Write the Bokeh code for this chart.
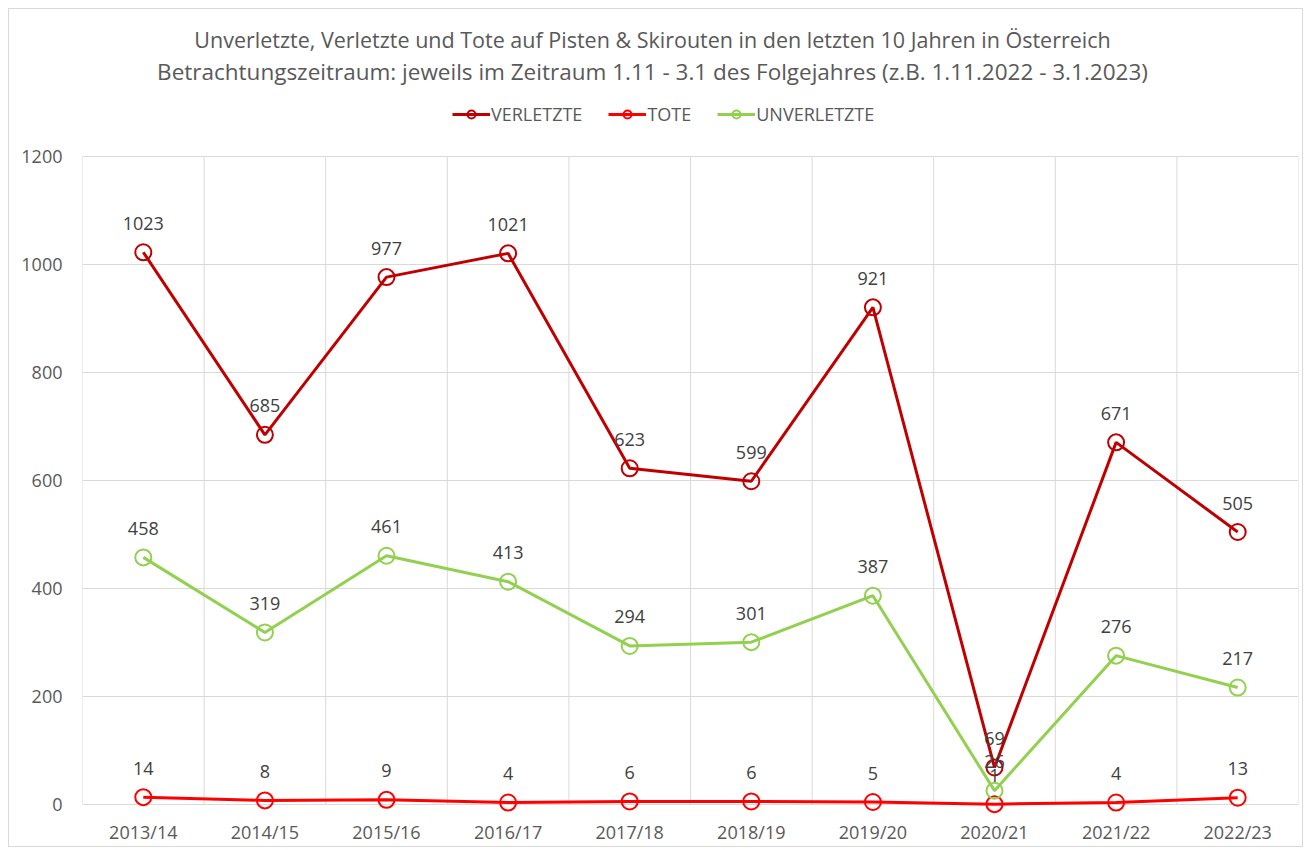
from bokeh.plotting import figure
from bokeh.models import (ColumnDataSource, FixedTicker, LabelSet, Label, Legend, LegendItem,
                          Range1d)
from bokeh.core.properties import value
from bokeh.embed import file_html
from bokeh.resources import INLINE

seasons = ["2013/14", "2014/15", "2015/16", "2016/17", "2017/18",
           "2018/19", "2019/20", "2020/21", "2021/22", "2022/23"]
verletzte = [1023, 685, 977, 1021, 623, 599, 921, 69, 671, 505]
tote = [14, 8, 9, 4, 6, 6, 5, 1, 4, 13]
unverletzte = [458, 319, 461, 413, 294, 301, 387, 26, 276, 217]
y_ticks = [0, 200, 400, 600, 800, 1000, 1200]

title1 = "Unverletzte, Verletzte und Tote auf Pisten & Skirouten in den letzten 10 Jahren in Österreich"
title2 = "Betrachtungszeitraum: jeweils im Zeitraum 1.11 - 3.1 des Folgejahres (z.B. 1.11.2022 - 3.1.2023)"

FONT = "Open Sans"
TXT = "#595959"
GRID = "#D9D9D9"
FW, FH = 1216, 803
PX_PER_UNIT = 0.54
Y0 = -20
Y1 = Y0 + FH / PX_PER_UNIT

xs = list(range(len(seasons)))
bounds = [i - 0.5 for i in range(len(seasons) + 1)]

p = figure(frame_width=FW, frame_height=FH, output_backend="svg", toolbar_location=None,
           x_range=Range1d(-0.5, len(seasons) - 0.5), y_range=Range1d(Y0, Y1),
           min_border_left=73, min_border_right=4, min_border_top=3, min_border_bottom=0,
           background_fill_color="white", border_fill_color="white",
           styles={"border": "1px solid #D9D9D9", "margin-left": "8px", "margin-top": "8px"})
p.outline_line_color = None

p.xaxis.ticker = FixedTicker(ticks=xs)
p.xaxis.major_label_overrides = {i: s for i, s in enumerate(seasons)}
p.xaxis.axis_line_color = None
p.xaxis.major_tick_line_color = None
p.xaxis.major_tick_out = 0
p.xaxis.major_tick_in = 0
p.xaxis.minor_tick_line_color = None
p.xaxis.major_label_text_font = FONT
p.xaxis.major_label_text_font_size = "18px"
p.xaxis.major_label_text_color = TXT
p.xaxis.major_label_standoff = 4

p.yaxis.ticker = FixedTicker(ticks=y_ticks)
p.yaxis.axis_line_color = None
p.yaxis.major_tick_line_color = None
p.yaxis.major_tick_out = 0
p.yaxis.major_tick_in = 0
p.yaxis.minor_tick_line_color = None
p.yaxis.major_label_text_font = FONT
p.yaxis.major_label_text_font_size = "18px"
p.yaxis.major_label_text_color = TXT
p.yaxis.major_label_standoff = 20

p.xgrid.grid_line_color = None
p.ygrid.grid_line_color = GRID

# vertical category separators (Excel-style gridlines between categories)
p.segment(x0=bounds, y0=[y_ticks[0]] * len(bounds), x1=bounds, y1=[y_ticks[-1]] * len(bounds),
          line_color=GRID, line_width=1, level="underlay")

series = [("VERLETZTE", verletzte, "#C00000"),
          ("TOTE", tote, "#FF0000"),
          ("UNVERLETZTE", unverletzte, "#92D050")]

items = []
for name, vals, col in series:
    src = ColumnDataSource(dict(x=xs, y=vals, t=[str(v) for v in vals]))
    ln = p.line("x", "y", source=src, line_color=col, line_width=3)
    sc = p.scatter("x", "y", source=src, marker="circle", size=16,
                   line_color=col, line_width=2, fill_color=None)
    items.append(LegendItem(label=name, renderers=[ln, sc]))
    p.add_layout(LabelSet(x="x", y="y", text="t", source=src, y_offset=29,
                          text_align="center", text_baseline="middle",
                          text_font=value(FONT), text_font_size=value("18px"),
                          text_color="#404040"))

legend = Legend(items=items, orientation="horizontal", location=(370, 689),
                label_text_font=FONT, label_text_font_size="18px", label_text_color=TXT,
                border_line_color=None, background_fill_alpha=0, glyph_width=38,
                glyph_height=20, spacing=26, padding=0, margin=0, label_standoff=1,
                label_height=20)
p.add_layout(legend, "center")

for txt, dy, fs in [(title1, 776, "21.5px"), (title2, 744, "22.5px")]:
    p.add_layout(Label(x=570, y=dy, x_units="screen", y_units="screen",
                       text=txt, text_align="center", text_baseline="middle",
                       text_font=FONT, text_font_size=fs, text_color=TXT))

open("out.html", "w").write(file_html(p, INLINE))
